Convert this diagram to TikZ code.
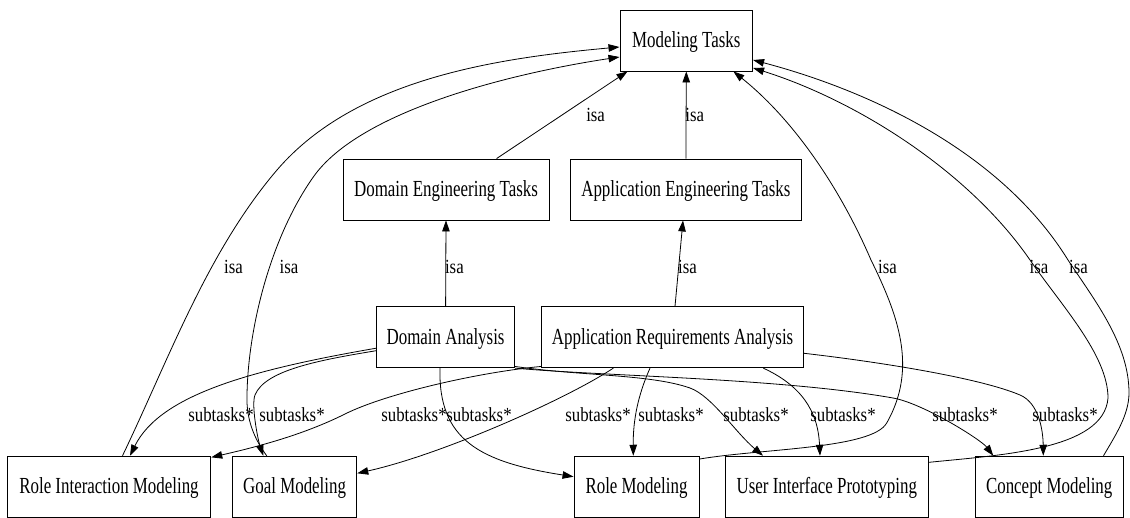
\documentclass[tikz,border=0pt]{standalone}
\usepackage{fontspec}
\setmainfont{Liberation Serif}
\newfontfamily\nodefont{Liberation Serif}[FakeStretch=0.735]
\newfontfamily\labfont{Liberation Serif}[FakeStretch=0.84]
\usetikzlibrary{arrows.meta,calc}
\tikzset{
  box/.style={draw=black,line width=0.9pt,rectangle,inner sep=0pt,minimum height=61pt,
    text height=16pt,text depth=2pt,font=\nodefont\fontsize{23}{23}\selectfont},
  edge/.style={draw=black,line width=0.8pt,-{Triangle[length=11pt,width=7.5pt]}},
  lab/.style={anchor=base,inner sep=0pt,font=\labfont\fontsize{20}{20}\selectfont}
}
\begin{document}
\begin{tikzpicture}[x=1pt,y=-1pt]
\useasboundingbox (0,0) rectangle (1130,518);
% nodes
\node[box,minimum width=132.7pt] (MT)  at (686.3,40.5) {Modeling Tasks};
\node[box,minimum width=206pt]   (DET) at (446,189.5) {Domain Engineering Tasks};
\node[box,minimum width=231pt]   (AET) at (685.9,189.5) {Application Engineering Tasks};
\node[box,minimum width=138pt]   (DA)  at (445.6,337.2) {Domain Analysis};
\node[box,minimum width=262pt]   (ARA) at (672.6,337.2) {Application Requirements Analysis};
\node[box,minimum width=203.6pt] (RIM) at (109,486.7) {Role Interaction Modeling};
\node[box,minimum width=124.4pt] (GM)  at (294.6,486.7) {Goal Modeling};
\node[box,minimum width=125pt]   (RM)  at (636.5,486.7) {Role Modeling};
\node[box,minimum width=202.8pt] (UIP) at (826.8,486.7) {User Interface Prototyping};
\node[box,minimum width=148.3pt] (CM)  at (1049.2,486.7) {Concept Modeling};
% isa edges
\draw[edge] ([xshift=50.6pt]DET.north) -- ([xshift=8pt]MT.south west);
\draw[edge] (AET.north) -- (MT.south);
\draw[edge] (DA.north) -- (DET.south);
\draw[edge] ([xshift=2.4pt]ARA.north) -- ([xshift=-2.9pt]AET.south);
\draw[edge] ([xshift=13.5pt]RIM.north) .. controls (168.5,360) and (207,252) .. (277,170)
   .. controls (356,78) and (499,58) .. ([yshift=-6.5pt]MT.west);
\draw[edge] ([xshift=-27.9pt]GM.north) .. controls (255,440) and (246,420) .. (247,395)
   .. controls (248,330) and (269.5,239) .. (313.5,176.7)
   .. controls (360,111) and (510,73.5) .. ([yshift=-16.5pt]MT.west);
\draw[edge] ([yshift=-3.3pt]RM.north east) .. controls (762,448.5) and (872,449) .. (886.7,423)
   .. controls (918,368) and (898,315) .. (871,260)
   .. controls (840,188) and (794,120) .. ([xshift=-19.7pt]MT.south east);
\draw[edge] ([yshift=-6.6pt]UIP.north east) .. controls (1000,455) and (1104,450) .. (1108,398)
   .. controls (1108,355) and (1061,305) .. (1030,260)
   .. controls (968,170) and (855,100) .. ([yshift=-27.5pt]MT.east);
\draw[edge] ([xshift=-20.3pt]CM.north east) .. controls (1115,436) and (1129,415) .. (1129,393)
   .. controls (1129,344) and (1095,301) .. (1068,260)
   .. controls (1000,150) and (866.7,90) .. ([yshift=-19.5pt]MT.east);
% subtasks edges
\draw[edge] ([yshift=-11pt]DA.west) .. controls (250,370) and (160,395) .. ([xshift=21pt]RIM.north);
\draw[edge] ([yshift=-13.5pt]DA.west) .. controls (320,360) and (265,370) .. (255,395)
   .. controls (251,405) and (258,440) .. ([xshift=-31.3pt]GM.north);
\draw[edge] ([yshift=1.7pt]ARA.south west) .. controls (476.6,372.5) and (385,394) .. (345,414)
   .. controls (303,435) and (256.8,446.9) .. ([yshift=-1.6pt]RIM.north east);
\draw[edge] ([xshift=-59.3pt]ARA.south) .. controls (565,400) and (440,455) .. ([yshift=13.4pt]GM.east);
\draw[edge] ([xshift=-5.6pt]DA.south) .. controls (438,440) and (480,462) .. ([yshift=10pt]RM.west);
\draw[edge] ([yshift=1.7pt]DA.south east) .. controls (580,376) and (650,374) .. (690,388)
   .. controls (712,396) and (735,432) .. ([xshift=-63.8pt]UIP.north);
\draw[edge] (DA.south east) .. controls (600,376) and (780,378) .. (893,398)
   .. controls (923,403.3) and (981,439.7) .. ([xshift=-55.9pt]CM.north);
\draw[edge] ([xshift=-22.6pt]ARA.south) .. controls (638,395) and (633,420) .. ([xshift=-3.2pt]RM.north);
\draw[edge] ([xshift=90.7pt]ARA.south) .. controls (800,385) and (818,410) .. ([xshift=-6.8pt]UIP.north);
\draw[edge] ([yshift=-16.1pt]ARA.east) .. controls (880,362) and (980,378) .. (1020,395)
   .. controls (1038.8,403) and (1043,430) .. ([xshift=-5.9pt]CM.north);
% isa labels
\node[lab] (i1) at (595.6,122) {isa};
\node[lab] (i2) at (694.7,122) {isa};
\node[lab] (i3) at (233.5,273.3) {isa};
\node[lab] (i4) at (289,273.3) {isa};
\node[lab] (i5) at (454.4,273.3) {isa};
\node[lab] (i6) at (687.5,273.3) {isa};
\node[lab] (i7) at (887.5,273.3) {isa};
\node[lab] (i8) at (1039,273.3) {isa};
\node[lab] (i9) at (1078.5,273.3) {isa};
% subtasks labels
\node[lab] (s1) at (221,421) {subtasks*};
\node[lab] (s2) at (292,421) {subtasks*};
\node[lab] (s3) at (414,421) {subtasks*};
\node[lab] (s4) at (479,421) {subtasks*};
\node[lab] (s5) at (598,421) {subtasks*};
\node[lab] (s6) at (671,421) {subtasks*};
\node[lab] (s7) at (756,421) {subtasks*};
\node[lab] (s8) at (843,421) {subtasks*};
\node[lab] (s9) at (965,421) {subtasks*};
\node[lab] (s10) at (1065,421) {subtasks*};
\end{tikzpicture}
\end{document}
